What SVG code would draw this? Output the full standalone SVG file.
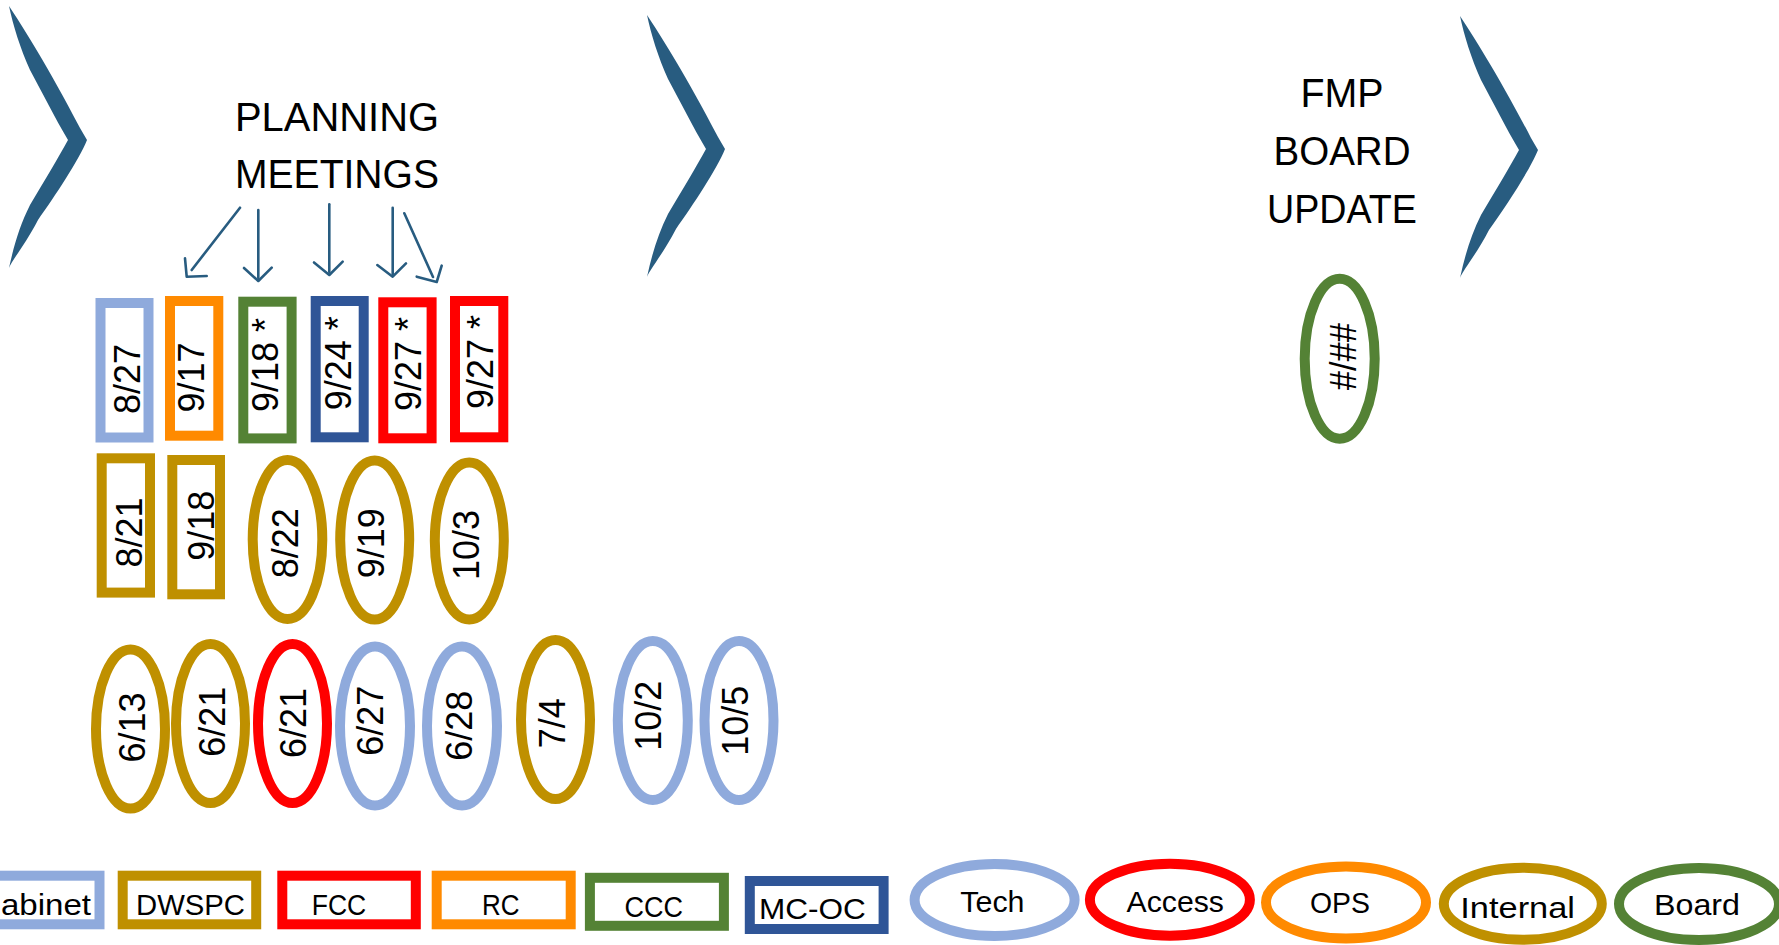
<svg xmlns="http://www.w3.org/2000/svg" width="1779" height="945" viewBox="0 0 1779 945">
<style>
.bg{fill:#ffffff}
.chev{fill:#285C80}
.arr{fill:none;stroke:#285C80;stroke-width:2.6;stroke-linecap:round;stroke-linejoin:round}
.title{font-family:"Liberation Sans",Arial,sans-serif;font-size:40px;fill:#000;text-anchor:middle}
.date{font-family:"Liberation Sans",Arial,sans-serif;font-size:36px;fill:#000;text-anchor:middle}
.leg{font-family:"Liberation Sans",Arial,sans-serif;font-size:29px;fill:#000}
.box{fill:#fff;stroke-width:10}
.ell{fill:#fff;stroke-width:10}
.lblue{stroke:#8FAADC}
.orange{stroke:#FF8A00}
.green{stroke:#548235}
.dblue{stroke:#2F5597}
.red{stroke:#FF0000}
.gold{stroke:#BF9000}
</style>
<defs>
<path id="chevron" d="M0,0 C12,18 40,62 71,122 L78,134 C70,154 46,190 29,214 C16,239 3,254 0,262 C5,239 11,219 21,199 C36,174 49,152 59,134 C46,112 33,86 21,64 C11,42 4,19 0,0 Z"/>
</defs>
<rect class="bg" x="0" y="0" width="1779" height="945"/>

<g id="chevrons">
<use href="#chevron" class="chev" transform="translate(9,6)"/>
<use href="#chevron" class="chev" transform="translate(647,15)"/>
<use href="#chevron" class="chev" transform="translate(1460,16)"/>
</g>

<g id="title-planning">
<text class="title" x="337" y="131" textLength="204" lengthAdjust="spacingAndGlyphs">PLANNING</text>
<text class="title" x="337" y="188" textLength="204" lengthAdjust="spacingAndGlyphs">MEETINGS</text>
</g>

<g id="title-fmp">
<text class="title" x="1342" y="106.7" textLength="83" lengthAdjust="spacingAndGlyphs">FMP</text>
<text class="title" x="1342" y="165" textLength="137" lengthAdjust="spacingAndGlyphs">BOARD</text>
<text class="title" x="1342" y="222.7" textLength="150" lengthAdjust="spacingAndGlyphs">UPDATE</text>
</g>

<g id="connectors">
<path class="arr" d="M240,207.7 L191.7,270"/>
<path class="arr" d="M185,258.3 L186.7,276.7 L206.7,276"/>
<path class="arr" d="M258.3,210 L258.3,278"/>
<path class="arr" d="M244,268 L258.3,281 L271.7,267.7"/>
<path class="arr" d="M329.3,204.3 L329.3,272"/>
<path class="arr" d="M314,262.5 L329.3,275 L342.7,261.7"/>
<path class="arr" d="M392.7,207.7 L392.7,274"/>
<path class="arr" d="M377.3,265 L392.7,276.7 L406,263.3"/>
<path class="arr" d="M404.3,213.3 L433,277"/>
<path class="arr" d="M441.7,265.7 L436.7,282 L416.7,276.7"/>
</g>

<g id="n-8-27"><rect class="box lblue" x="100.5" y="303" width="48" height="134.5"/><text class="date" transform="translate(126.7,379) rotate(-90)" y="13">8/27</text></g>
<g id="n-9-17"><rect class="box orange" x="170" y="301" width="48.3" height="134.7"/><text class="date" transform="translate(191,377.5) rotate(-90)" y="13">9/17</text></g>
<g id="n-9-18s"><rect class="box green" x="243.3" y="301.7" width="48.3" height="136.7"/><text class="date" transform="translate(265,365) rotate(-90)" y="13">9/18 *</text></g>
<g id="n-9-24s"><rect class="box dblue" x="315.7" y="301" width="48" height="136.3"/><text class="date" transform="translate(337.5,363.3) rotate(-90)" y="13">9/24 *</text></g>
<g id="n-9-27s-a"><rect class="box red" x="383.3" y="302.3" width="48.3" height="136"/><text class="date" transform="translate(407.5,364) rotate(-90)" y="13">9/27 *</text></g>
<g id="n-9-27s-b"><rect class="box red" x="455" y="301" width="48.3" height="136.3"/><text class="date" transform="translate(480,362) rotate(-90)" y="13">9/27 *</text></g>

<g id="n-8-21"><rect class="box gold" x="101.7" y="458.3" width="48.3" height="134.3"/><text class="date" transform="translate(128.8,532.5) rotate(-90)" y="13">8/21</text></g>
<g id="n-9-18"><rect class="box gold" x="172.3" y="460" width="47.7" height="134.3"/><text class="date" transform="translate(200.5,525.8) rotate(-90)" y="13">9/18</text></g>
<g id="n-8-22"><ellipse class="ell gold" cx="287.5" cy="539.5" rx="34.8" ry="79.5"/><text class="date" transform="translate(284.5,543.3) rotate(-90)" y="13">8/22</text></g>
<g id="n-9-19"><ellipse class="ell gold" cx="374.7" cy="540" rx="34.5" ry="79.5"/><text class="date" transform="translate(371.2,543.3) rotate(-90)" y="13">9/19</text></g>
<g id="n-10-3"><ellipse class="ell gold" cx="469.3" cy="541" rx="34.5" ry="78.5"/><text class="date" transform="translate(465.8,545) rotate(-90)" y="13">10/3</text></g>

<g id="n-6-13"><ellipse class="ell gold" cx="130.5" cy="729" rx="34.5" ry="79.5"/><text class="date" transform="translate(131.7,727.5) rotate(-90)" y="13">6/13</text></g>
<g id="n-6-21-a"><ellipse class="ell gold" cx="210.5" cy="723.5" rx="34.5" ry="79.5"/><text class="date" transform="translate(212,721.7) rotate(-90)" y="13">6/21</text></g>
<g id="n-6-21-b"><ellipse class="ell red" cx="292.5" cy="723.5" rx="34.5" ry="79.5"/><text class="date" transform="translate(292.8,723) rotate(-90)" y="13">6/21</text></g>
<g id="n-6-27"><ellipse class="ell lblue" cx="375" cy="726" rx="35" ry="79.5"/><text class="date" transform="translate(370.4,720.8) rotate(-90)" y="13">6/27</text></g>
<g id="n-6-28"><ellipse class="ell lblue" cx="462" cy="726" rx="35" ry="79.5"/><text class="date" transform="translate(458.8,725.8) rotate(-90)" y="13">6/28</text></g>
<g id="n-7-4"><ellipse class="ell gold" cx="555.5" cy="719.5" rx="34.5" ry="79.5"/><text class="date" transform="translate(552.4,723.3) rotate(-90)" y="13">7/4</text></g>
<g id="n-10-2"><ellipse class="ell lblue" cx="652.8" cy="720.5" rx="35" ry="79.5"/><text class="date" transform="translate(647.7,715.8) rotate(-90)" y="13">10/2</text></g>
<g id="n-10-5"><ellipse class="ell lblue" cx="739" cy="720.5" rx="34.5" ry="79.5"/><text class="date" transform="translate(735.4,720.8) rotate(-90)" y="13">10/5</text></g>

<g id="n-board-date"><ellipse class="ell green" cx="1339.7" cy="358.7" rx="35" ry="80" stroke-width="9.5"/><text class="date" transform="translate(1343.3,356.7) rotate(-90)" y="13" textLength="67" lengthAdjust="spacingAndGlyphs">#/##</text></g>

<g id="legend-cabinet"><rect class="box lblue" x="-34" y="875.7" width="133.5" height="48.6"/><text class="leg" x="-23" y="915" textLength="114" lengthAdjust="spacingAndGlyphs">Cabinet</text></g>
<g id="legend-dwspc"><rect class="box gold" x="122.7" y="875.7" width="133.5" height="48.6"/><text class="leg" x="136" y="915" textLength="109" lengthAdjust="spacingAndGlyphs">DWSPC</text></g>
<g id="legend-fcc"><rect class="box red" x="282.3" y="875.7" width="133.5" height="48.6"/><text class="leg" x="311.7" y="915" textLength="54.5" lengthAdjust="spacingAndGlyphs">FCC</text></g>
<g id="legend-rc"><rect class="box orange" x="436.7" y="875.7" width="134" height="48.6"/><text class="leg" x="482" y="915" textLength="37.5" lengthAdjust="spacingAndGlyphs">RC</text></g>
<g id="legend-ccc"><rect class="box green" x="589.9" y="877.8" width="134" height="48"/><text class="leg" x="624.6" y="916.7" textLength="58.5" lengthAdjust="spacingAndGlyphs">CCC</text></g>
<g id="legend-mcoc"><rect class="box dblue" x="749.8" y="881" width="133.8" height="48"/><text class="leg" x="758.9" y="919" textLength="106.8" lengthAdjust="spacingAndGlyphs">MC-OC</text></g>

<g id="legend-tech"><ellipse class="ell lblue" cx="994.6" cy="900" rx="80" ry="36"/><text class="leg" x="960.3" y="911.7" textLength="64.2" lengthAdjust="spacingAndGlyphs">Tech</text></g>
<g id="legend-access"><ellipse class="ell red" cx="1169.9" cy="899.7" rx="80" ry="36"/><text class="leg" x="1126.6" y="911.7" textLength="97.4" lengthAdjust="spacingAndGlyphs">Access</text></g>
<g id="legend-ops"><ellipse class="ell orange" cx="1346" cy="902.5" rx="80" ry="36"/><text class="leg" x="1310" y="913.3" textLength="60" lengthAdjust="spacingAndGlyphs">OPS</text></g>
<g id="legend-internal"><ellipse class="ell gold" cx="1522.8" cy="903.8" rx="79" ry="36"/><text class="leg" x="1460.3" y="918.3" textLength="114.7" lengthAdjust="spacingAndGlyphs">Internal</text></g>
<g id="legend-board"><ellipse class="ell green" cx="1699" cy="904" rx="80" ry="36"/><text class="leg" x="1654" y="915" textLength="86" lengthAdjust="spacingAndGlyphs">Board</text></g>
</svg>
